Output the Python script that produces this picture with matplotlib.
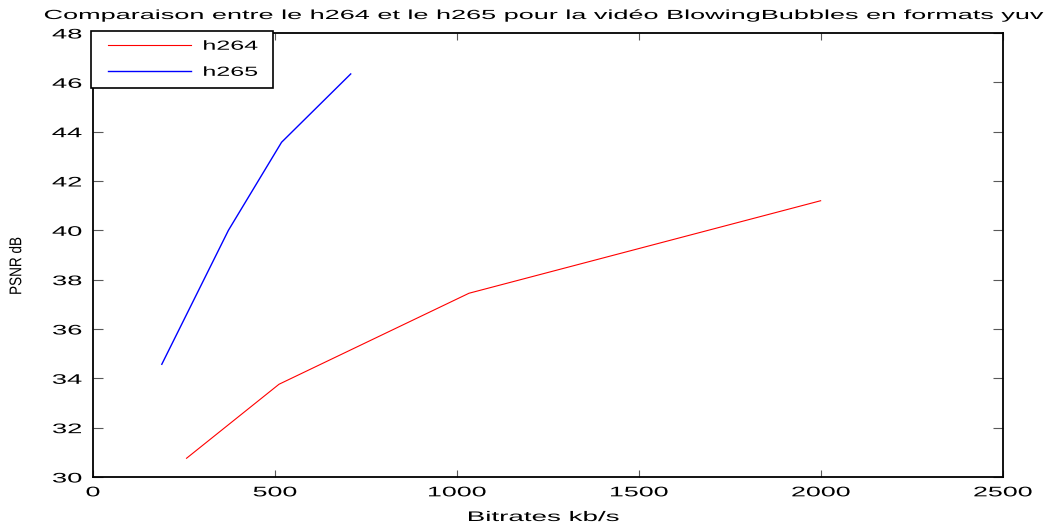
import matplotlib
matplotlib.use("Agg")
import matplotlib.pyplot as plt
from matplotlib.patheffects import AbstractPathEffect
from matplotlib.transforms import Affine2D
from matplotlib.lines import Line2D
from matplotlib.legend_handler import HandlerLine2D

# ---- data ----
h264_bitrate = [257, 511, 1033, 1999]
h264_psnr = [30.76, 33.76, 37.45, 41.2]
h265_bitrate = [189, 372, 518, 708]
h265_psnr = [34.57, 40.0, 43.57, 46.34]
x_ticks = [0, 500, 1000, 1500, 2000, 2500]
y_ticks = [30, 32, 34, 36, 38, 40, 42, 44, 46, 48]
title = "Comparaison entre le h264 et le h265 pour la vidéo BlowingBubbles en formats yuv"
xlabel = "Bitrates kb/s"
ylabel = "PSNR dB"
labels = ["h264", "h265"]


class Stretch(AbstractPathEffect):
    """Stretch glyphs of a text (in the text's own frame)."""

    def __init__(self, sx=1.0, sy=1.0, anchor="center"):
        super().__init__()
        self.sx, self.sy, self.anchor = sx, sy, anchor

    def draw_path(self, renderer, gc, tpath, affine, rgbFace=None):
        ext = tpath.get_extents()
        if self.anchor == "left":
            cx = ext.x0
        elif self.anchor == "right":
            cx = ext.x1
        else:
            cx = 0.5 * (ext.x0 + ext.x1)
        cy = 0.5 * (ext.y0 + ext.y1)
        pre = Affine2D().translate(-cx, -cy).scale(self.sx, self.sy).translate(cx, cy)
        renderer.draw_path(gc, tpath, pre + affine, rgbFace)


plt.rcParams["font.family"] = ["Liberation Sans", "DejaVu Sans"]

fig = plt.figure(figsize=(10.51, 5.28), dpi=100)
ax = fig.add_axes([93 / 1051, 51 / 528, 910 / 1051, 444 / 528])

ax.plot(h264_bitrate, h264_psnr, color="#ff0000", lw=0.8, label=labels[0])
ax.plot(h265_bitrate, h265_psnr, color="#0000ff", lw=1.0, label=labels[1])

ax.set_xlim(0, 2500)
ax.set_ylim(30, 48)
ax.set_xticks(x_ticks)
ax.set_yticks(y_ticks)
ax.tick_params(axis="both", direction="in", top=True, right=True,
               width=0.8, color="0.35", labelsize=10, labelcolor="black")
ax.tick_params(axis="x", length=5, pad=6)
ax.tick_params(axis="y", length=7, pad=8)
for s in ax.spines.values():
    s.set_linewidth(1.3)
    s.set_color("black")

for t in ax.get_xticklabels():
    t.set_path_effects([Stretch(1.93, 1.0, "center")])
for t in ax.get_yticklabels():
    t.set_path_effects([Stretch(1.97, 1.0, "right")])

ax.set_title(title, fontsize=9.5, x=(544 - 93) / 910, y=(477 - 19) / 444,
             pad=0, va="baseline", ha="center",
             path_effects=[Stretch(2.05, 1.0, "center")])

ax.set_xlabel(xlabel, fontsize=10, va="baseline", ha="center",
              path_effects=[Stretch(2.0, 1.0, "center")])
ax.xaxis.set_label_coords((543.5 - 93) / 910, (477 - 521) / 444)

ax.set_ylabel(ylabel, fontsize=9.75, va="center", ha="center",
              path_effects=[Stretch(1.0, 1.25, "center")])
ax.yaxis.set_label_coords((16 - 93) / 910, (477 - 266) / 444)

leg = ax.legend(loc="upper left", bbox_to_anchor=(-0.002, 0.80, 0.2, 0.2045),
                mode="expand", borderaxespad=0, fontsize=9.5,
                handlelength=6.87, handletextpad=0.9, borderpad=0.72,
                labelspacing=1.05, fancybox=False, framealpha=1,
                edgecolor="black",
                handler_map={Line2D: HandlerLine2D(xpad=0.58)})
leg.get_frame().set_linewidth(1.2)
for t in leg.get_texts():
    t.set_path_effects([Stretch(1.9, 1.0, "left")])

fig.savefig("out.png", dpi=100, facecolor="white")
